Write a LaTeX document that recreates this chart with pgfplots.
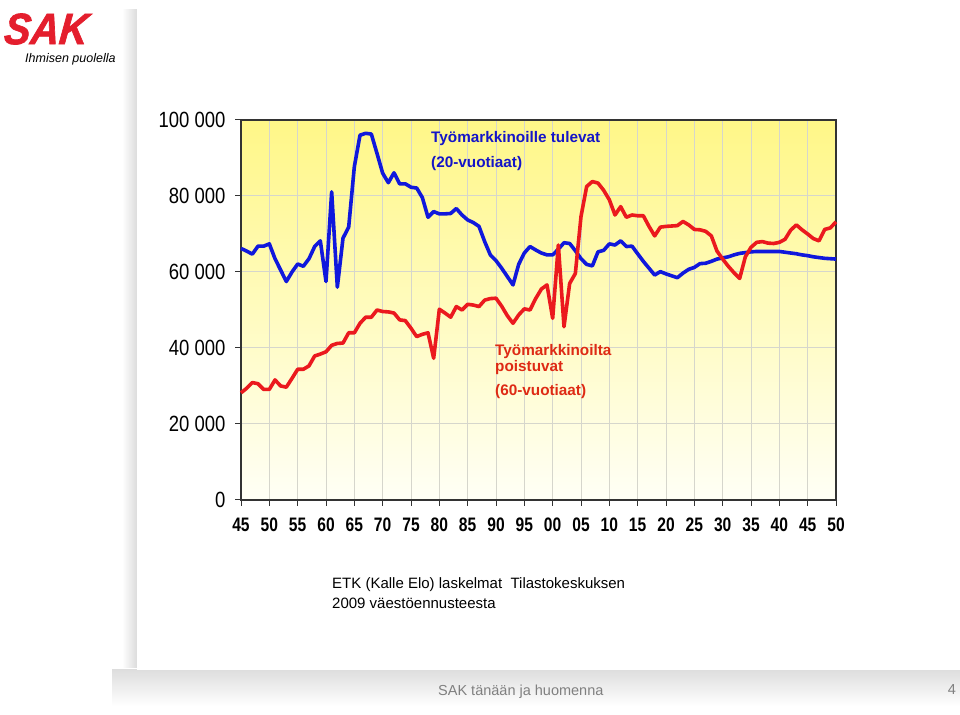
\documentclass[border=0pt]{standalone}
\usepackage{pgfplots}
\pgfplotsset{compat=1.18}
\usepackage{fontspec}
\setmainfont{Liberation Sans}
\newfontfamily\narrowfont[FakeStretch=0.84]{Liberation Sans}
\newfontfamily\narrowbold[FakeStretch=0.8]{Liberation Sans Bold}
\newfontfamily\logofont[FakeStretch=0.9,FakeBold=1.5,FakeSlant=0.1]{Liberation Sans Bold Italic}
\definecolor{blueline}{RGB}{16,24,220}
\definecolor{redline}{RGB}{235,25,30}
\definecolor{bluetext}{RGB}{20,20,200}
\definecolor{redtext}{RGB}{222,42,20}
\definecolor{gridc}{RGB}{214,214,204}
\definecolor{logored}{RGB}{228,30,45}
\begin{document}
\begin{tikzpicture}[x=1pt,y=1pt]
\path[use as bounding box,fill=white] (0,0) rectangle (960,714);
% sheet shadow
\shade[left color=white,right color=black!14] (122,46) rectangle (137,704);
\shade[top color=black!13,bottom color=white] (112,8) rectangle (960,44);
\fill[white] (137,44) rectangle (960,714);
% logo
\node[anchor=west,text=logored,inner sep=0] at (3,685) {\fontsize{44}{46}\logofont SAK};
\node[anchor=west,inner sep=0] at (25,655) {\fontsize{12.5}{14}\selectfont\itshape Ihmisen puolella};
\begin{axis}[
  at={(241pt,214pt)}, anchor=south west,
  width=595pt, height=380pt, scale only axis,
  xmin=1945, xmax=2050, ymin=0, ymax=100,
  axis background/.style={shade, top color={rgb,255:red,255;green,247;blue,135}, bottom color={rgb,255:red,255;green,255;blue,246}},
  xtick={1945,1950,...,2050},
  xticklabels={45,50,55,60,65,70,75,80,85,90,95,00,05,10,15,20,25,30,35,40,45,50},
  ytick={0,20,40,60,80,100},
  yticklabels={0,20 000,40 000,60 000,80 000,100 000},
  tick align=outside, tick pos=left,
  major tick length=6pt,
  grid=major,
  major grid style={gridc, line width=1pt},
  axis line style={black!80, line width=1.3pt},
  tick style={black!80, line width=1pt},
  xticklabel style={font=\fontsize{19.5}{21}\narrowbold, anchor=north, text height=14pt, text depth=0pt, yshift=-8pt},
  yticklabel style={font=\fontsize{22}{24}\narrowfont, xshift=-6pt},
  clip=false,
]
\addplot[blueline, line width=3.6pt, line join=round] coordinates {
(1945,66.2)(1946,65.5)(1947,64.7)(1948,66.8)(1949,66.8)(1950,67.4)(1951,63.5)(1952,60.5)(1953,57.5)(1954,60)
(1955,62.1)(1956,61.5)(1957,63.5)(1958,66.7)(1959,68.2)(1960,57.5)(1961,81.1)(1962,56)(1963,68.9)(1964,71.8)
(1965,87.7)(1966,96)(1967,96.5)(1968,96.3)(1969,91.2)(1970,86)(1971,83.5)(1972,86.1)(1973,83.2)(1974,83.2)
(1975,82.3)(1976,82.1)(1977,79.6)(1978,74.4)(1979,75.9)(1980,75.3)(1981,75.3)(1982,75.4)(1983,76.7)(1984,75)
(1985,73.7)(1986,73)(1987,72)(1988,68)(1989,64.5)(1990,63)(1991,61)(1992,58.8)(1993,56.6)(1994,62)
(1995,65)(1996,66.7)(1997,65.8)(1998,65)(1999,64.5)(2000,64.5)(2001,66)(2002,67.7)(2003,67.5)(2004,65.6)
(2005,63.5)(2006,62)(2007,61.6)(2008,65.3)(2009,65.7)(2010,67.4)(2011,67.1)(2012,68.2)(2013,66.7)(2014,66.8)
(2015,64.8)(2016,62.8)(2017,61)(2018,59.2)(2019,60.1)(2020,59.5)(2021,59)(2022,58.5)(2023,59.7)(2024,60.7)
(2025,61.2)(2026,62.2)(2027,62.3)(2028,62.8)(2029,63.4)(2030,63.7)(2031,64)(2032,64.5)(2033,64.9)(2034,65.1)
(2035,65.3)(2036,65.4)(2037,65.4)(2038,65.4)(2039,65.4)(2040,65.4)(2041,65.2)(2042,65)(2043,64.8)(2044,64.5)
(2045,64.3)(2046,64)(2047,63.8)(2048,63.6)(2049,63.5)(2050,63.4)
};
\addplot[redline, line width=3.6pt, line join=round] coordinates {
(1945,28.2)(1946,29.4)(1947,30.9)(1948,30.6)(1949,29.1)(1950,29.1)(1951,31.6)(1952,30)(1953,29.7)(1954,32)
(1955,34.4)(1956,34.4)(1957,35.3)(1958,37.9)(1959,38.4)(1960,39)(1961,40.7)(1962,41.2)(1963,41.3)(1964,44)
(1965,44)(1966,46.5)(1967,48.1)(1968,48.1)(1969,50)(1970,49.6)(1971,49.5)(1972,49.2)(1973,47.4)(1974,47.2)
(1975,45.2)(1976,43)(1977,43.6)(1978,44)(1979,37.3)(1980,50.2)(1981,49.2)(1982,48.1)(1983,50.9)(1984,50)
(1985,51.5)(1986,51.3)(1987,50.9)(1988,52.6)(1989,53)(1990,53.1)(1991,51)(1992,48.5)(1993,46.5)(1994,48.7)
(1995,50.3)(1996,50)(1997,53)(1998,55.5)(1999,56.6)(2000,47.8)(2001,67.1)(2002,45.6)(2003,57)(2004,59.6)
(2005,74.6)(2006,82.5)(2007,83.8)(2008,83.4)(2009,81.5)(2010,79)(2011,75)(2012,77.2)(2013,74.4)(2014,75)
(2015,74.8)(2016,74.8)(2017,72)(2018,69.5)(2019,71.8)(2020,72)(2021,72.1)(2022,72.2)(2023,73.3)(2024,72.4)
(2025,71.2)(2026,71.1)(2027,70.7)(2028,69.5)(2029,65.5)(2030,63.4)(2031,61.5)(2032,59.8)(2033,58.3)(2034,64)
(2035,66.5)(2036,67.8)(2037,68)(2038,67.6)(2039,67.5)(2040,67.8)(2041,68.6)(2042,71)(2043,72.4)(2044,71.1)
(2045,70)(2046,68.8)(2047,68.2)(2048,71.2)(2049,71.6)(2050,73.2)
};
\end{axis}
% annotations
\node[anchor=west,inner sep=0,text=bluetext,font=\fontsize{15.3}{17}\selectfont\bfseries] at (431,575) {Työmarkkinoille tulevat};
\node[anchor=west,inner sep=0,text=bluetext,font=\fontsize{15.3}{17}\selectfont\bfseries] at (431,550) {(20-vuotiaat)};
\node[anchor=west,inner sep=0,text=redtext,font=\fontsize{15.3}{17}\selectfont\bfseries] at (495,362) {Työmarkkinoilta};
\node[anchor=west,inner sep=0,text=redtext,font=\fontsize{15.3}{17}\selectfont\bfseries] at (495,346) {poistuvat};
\node[anchor=west,inner sep=0,text=redtext,font=\fontsize{15.3}{17}\selectfont\bfseries] at (495,322) {(60-vuotiaat)};
% source
\node[anchor=west,inner sep=0,font=\fontsize{15}{17}\selectfont] at (332,129) {ETK (Kalle Elo) laskelmat\ \ Tilastokeskuksen};
\node[anchor=west,inner sep=0,font=\fontsize{15}{17}\selectfont] at (332,111) {2009 väestöennusteesta};
% footer
\node[anchor=west,inner sep=0,text=black!50,font=\fontsize{14.5}{16}\selectfont] at (438,22) {SAK tänään ja huomenna};
\node[anchor=east,inner sep=0,text=black!50,font=\fontsize{14.5}{16}\selectfont] at (956,24) {4};
\end{tikzpicture}
\end{document}
